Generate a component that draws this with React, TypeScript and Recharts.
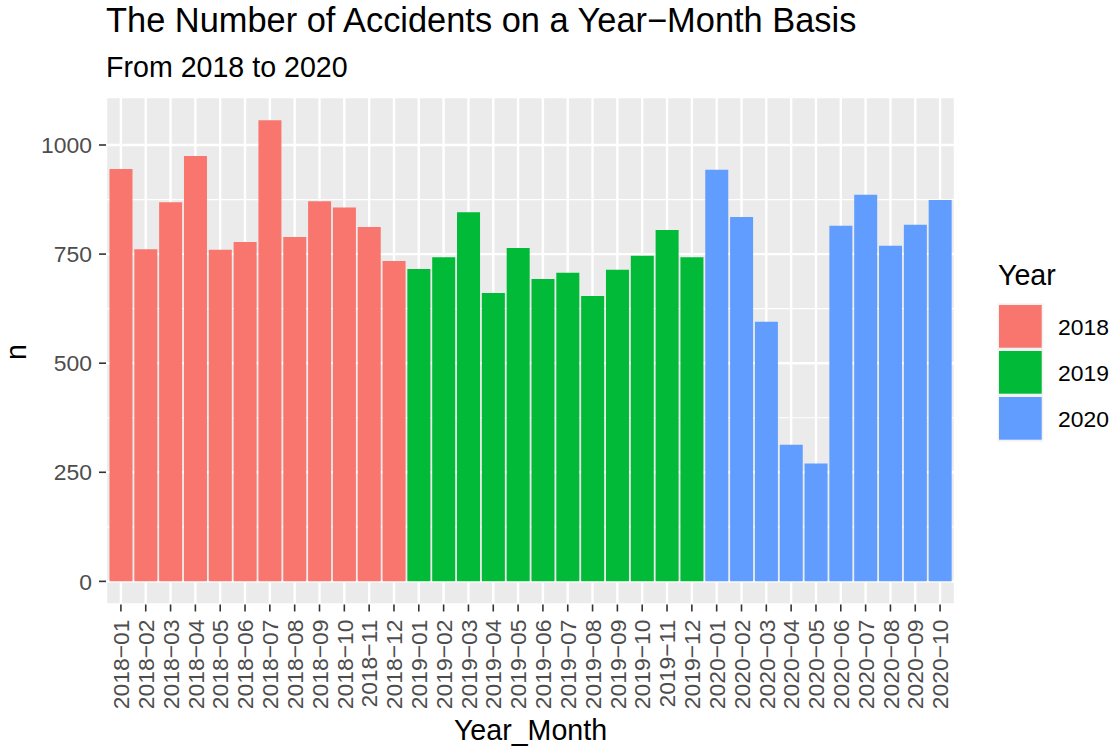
import React from 'react';
import { BarChart, Bar, XAxis, YAxis, CartesianGrid, Cell } from 'recharts';

const yearMonths = [
  '2018−01', '2018−02', '2018−03', '2018−04', '2018−05', '2018−06', '2018−07', '2018−08', '2018−09', '2018−10', '2018−11', '2018−12',
  '2019−01', '2019−02', '2019−03', '2019−04', '2019−05', '2019−06', '2019−07', '2019−08', '2019−09', '2019−10', '2019−11', '2019−12',
  '2020−01', '2020−02', '2020−03', '2020−04', '2020−05', '2020−06', '2020−07', '2020−08', '2020−09', '2020−10',
];
const yearOfMonth = [
  '2018', '2018', '2018', '2018', '2018', '2018', '2018', '2018', '2018', '2018', '2018', '2018',
  '2019', '2019', '2019', '2019', '2019', '2019', '2019', '2019', '2019', '2019', '2019', '2019',
  '2020', '2020', '2020', '2020', '2020', '2020', '2020', '2020', '2020', '2020',
];
const accidentCounts = [
  945, 761, 869, 975, 760, 778, 1057, 789, 871, 857, 812, 734,
  716, 743, 846, 661, 764, 693, 707, 654, 714, 746, 805, 743,
  943, 835, 595, 313, 270, 815, 886, 769, 817, 874,
];
const yearLevels = ['2018', '2019', '2020'];
const yearColors = ['#F8766D', '#00BA38', '#619CFF'];
const yTicks = [0, 250, 500, 750, 1000];
const yMinorTicks = [125, 375, 625, 875];

const data = yearMonths.map((ym, i) => ({ ym, year: yearOfMonth[i], n: accidentCounts[i] }));

const FONT = '"Liberation Sans", Arial, Helvetica, sans-serif';
const TICK_SIZE = 22.9;
const BASE_SIZE = 28.6;

const XTick = (props: any) => {
  const { x, y, payload } = props;
  return (
    <text
      x={x}
      y={y}
      transform={`rotate(-90 ${x} ${y})`}
      textAnchor="end"
      dy="0.36em"
      fill="#4D4D4D"
      fontSize={TICK_SIZE}
      fontFamily={FONT}
    >
      {payload.value}
    </text>
  );
};

export default function App() {
  const W = 1115;
  const H = 746;
  return (
    <div style={{ position: 'absolute', left: 0, top: 0, width: W, height: H, background: '#FFFFFF' }}>
      <BarChart
        width={W}
        height={H}
        data={data}
        margin={{ top: 97, right: 160, bottom: 1.5, left: 46 }}
        barCategoryGap={1}
      >
        <CartesianGrid
          fill="#EBEBEB"
          stroke="#FFFFFF"
          strokeWidth={1.2}
          vertical={false}
          horizontalValues={yMinorTicks}
        />
        <CartesianGrid stroke="#FFFFFF" strokeWidth={2.4} />
        <XAxis
          dataKey="ym"
          type="category"
          interval={0}
          height={140}
          padding={{ left: 2.5, right: 2.5 }}
          axisLine={false}
          tickSize={7}
          tickMargin={8}
          tickLine={{ stroke: '#333333', strokeWidth: 1.6 }}
          tick={(p: any) => <XTick {...p} />}
        />
        <YAxis
          type="number"
          domain={[-53, 1110]}
          ticks={yTicks}
          allowDataOverflow
          width={60}
          axisLine={false}
          tickSize={7}
          tickMargin={7}
          tickLine={{ stroke: '#333333', strokeWidth: 1.6 }}
          tick={{ fill: '#4D4D4D', fontSize: TICK_SIZE, fontFamily: FONT }}
        />
        <Bar dataKey="n" isAnimationActive={false}>
          {data.map((d, i) => (
            <Cell key={i} fill={yearColors[yearLevels.indexOf(d.year)]} />
          ))}
        </Bar>
      </BarChart>
      <svg
        width={W}
        height={H}
        style={{ position: 'absolute', left: 0, top: 0, pointerEvents: 'none' }}
      >
        <text x={106} y={32} fontSize={34.4} fontFamily={FONT} fill="#000000">
          The Number of Accidents on a Year−Month Basis
        </text>
        <text x={106} y={77} fontSize={BASE_SIZE} fontFamily={FONT} fill="#000000">
          From 2018 to 2020
        </text>
        <text x={530.5} y={740} fontSize={BASE_SIZE} fontFamily={FONT} fill="#000000" textAnchor="middle">
          Year_Month
        </text>
        <text
          x={26}
          y={352}
          fontSize={BASE_SIZE}
          fontFamily={FONT}
          fill="#000000"
          textAnchor="middle"
          transform="rotate(-90 26 352)"
        >
          n
        </text>
        <text x={998} y={285} fontSize={BASE_SIZE} fontFamily={FONT} fill="#000000">
          Year
        </text>
        <rect x={997.7} y={303.3} width={45.6} height={138.4} fill="#F2F2F2" />
        {yearLevels.map((yr, i) => (
          <g key={yr}>
            <rect x={999} y={305 + i * 46} width={42.7} height={42.7} fill={yearColors[i]} />
            <text
              x={1058}
              y={326.5 + i * 46}
              dy="0.36em"
              fontSize={TICK_SIZE}
              fontFamily={FONT}
              fill="#000000"
            >
              {yr}
            </text>
          </g>
        ))}
      </svg>
    </div>
  );
}
